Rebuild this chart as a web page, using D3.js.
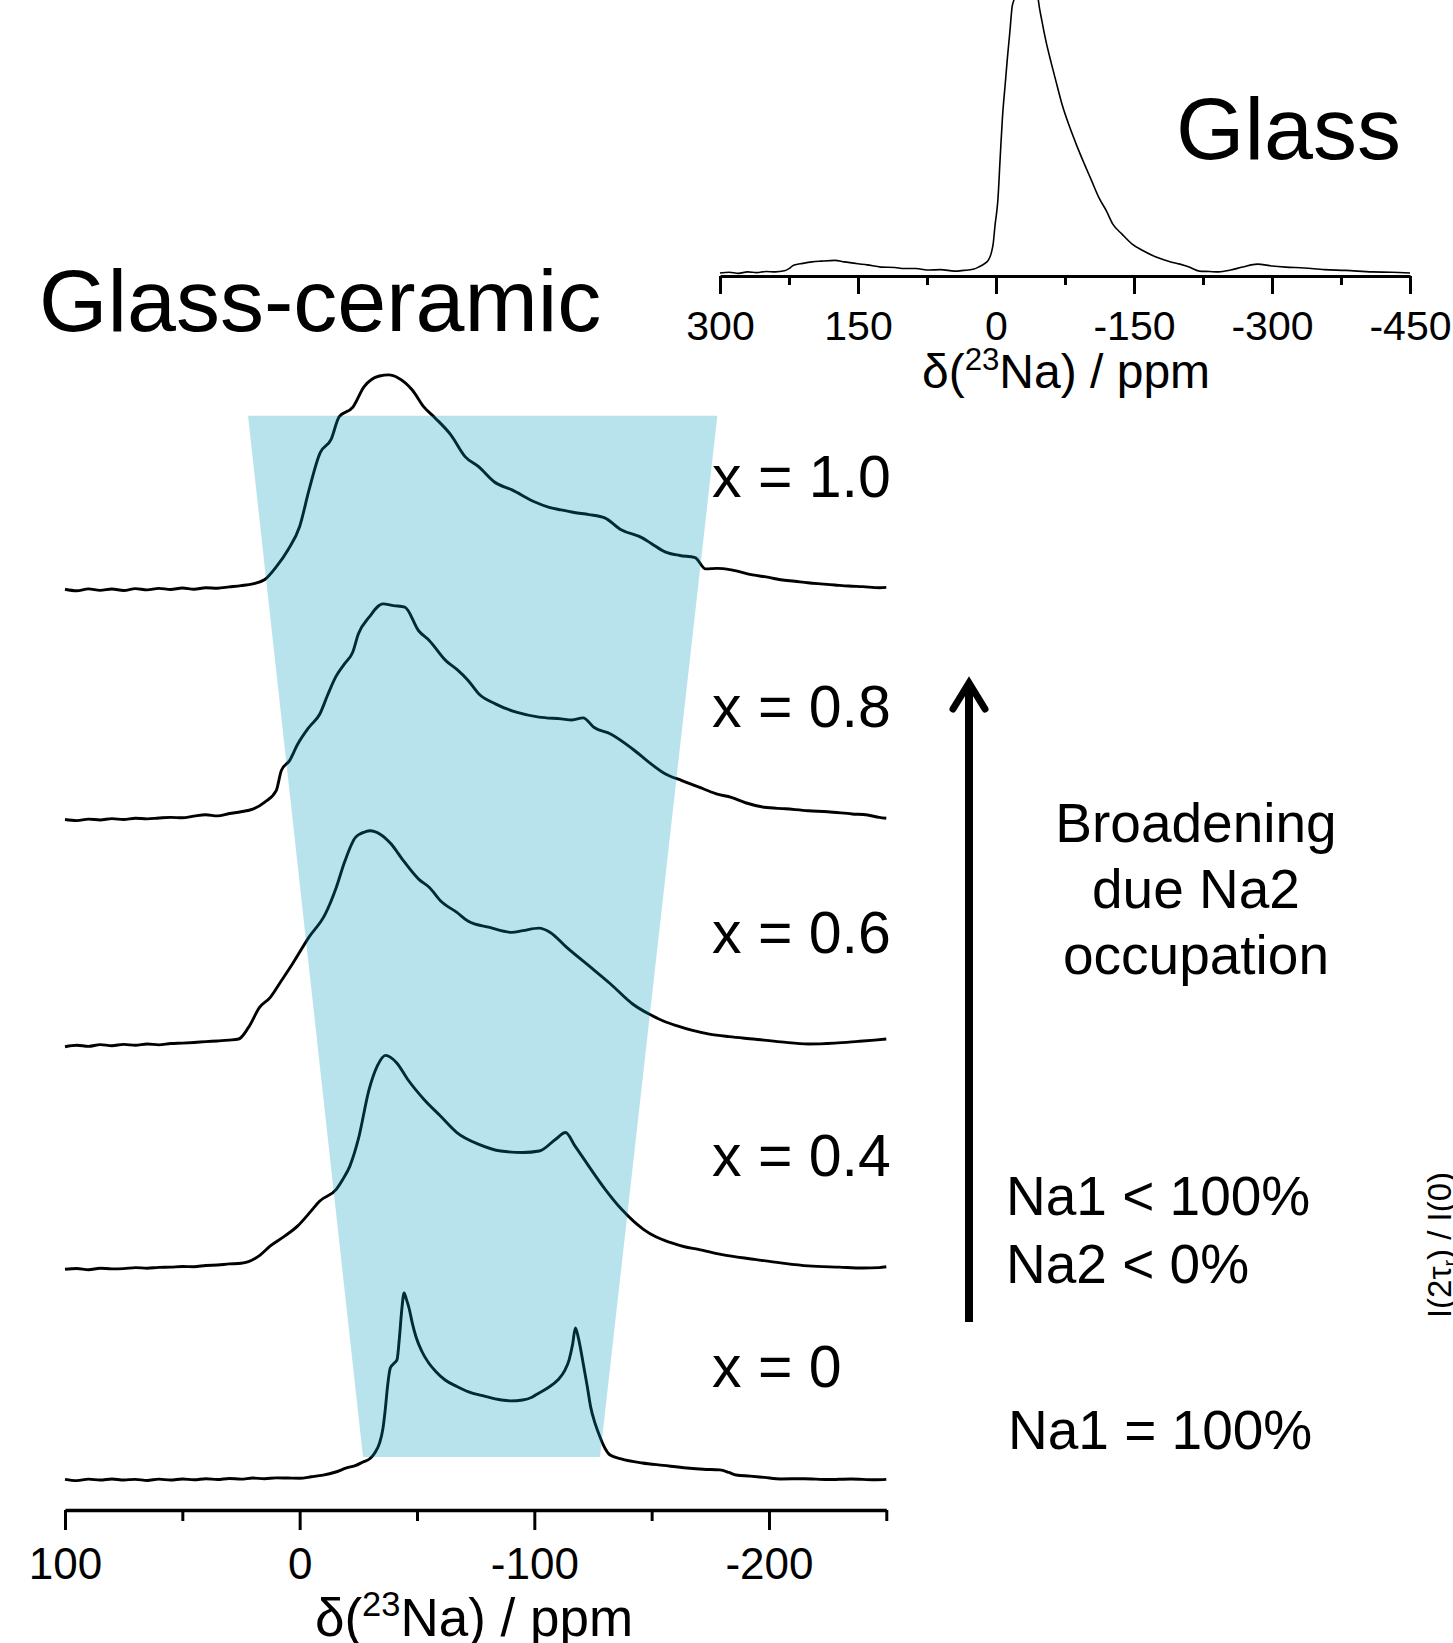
<!DOCTYPE html>
<html>
<head>
<meta charset="utf-8">
<script src="https://cdn.jsdelivr.net/npm/d3@7"></script>
<style>
  body { margin: 0; background: #fff; }
  svg { display: block; font-family: "Liberation Sans", Arial, sans-serif; }
</style>
</head>
<body>
<div id="chart"></div>
<script>
// ---- data ----
// stacked 23Na MAS spectra of the glass-ceramics, [ppm, intensity]
const seriesLabels = ['x = 1.0', 'x = 0.8', 'x = 0.6', 'x = 0.4', 'x = 0'];
const stackOffsets = [414, 307, 202, 98, 0];

const spec10 = [[100,0.3],[95,-0.4],[90,0.5],[85,-0.2],[80,0.4],[75,-0.3],[70,0.6],[65,0],[60,0.7],[55,0.2],[50,0.9],[45,0.3],[40,1.0],[35,0.8],[30,1.4],[25,2.0],[20,2.8],[15,4.7],[10,10.7],[5,18.6],[0,29.5],[-4,46.5],[-8.7,63.7],[-13.4,70],[-16.8,80.5],[-22.7,85],[-27.4,94.4],[-34,99.5],[-38,100],[-42,98.6],[-48,93],[-53,85],[-57.7,80],[-64.5,72],[-70.5,62],[-76.4,57.2],[-83,50.2],[-90.5,46.5],[-100,41],[-106,38.5],[-111.4,37.2],[-117,36],[-123.3,35],[-130,33.5],[-137,28],[-146,24.2],[-150,21.5],[-155.7,17.7],[-162,16],[-168.5,15],[-173,9.8],[-178,10],[-184,9.3],[-193,7],[-200,5.8],[-205,4.7],[-211,4],[-216.6,3.3],[-222,2.8],[-228,2.3],[-234,1.8],[-240,1.5],[-247,1],[-250,1.2]];

const spec08 = [[100,0.2],[95,-0.3],[90,0.4],[85,0],[80,0.6],[75,0.2],[70,0.8],[65,0.5],[60,0.9],[55,1.2],[50,1.0],[45,1.8],[40,2.4],[35,1.9],[30,3.0],[25,3.8],[20,5.0],[15,8.2],[10,13.6],[7.8,23],[4.3,27.6],[0.8,35.3],[-3.9,43],[-8.6,49.3],[-12.1,58.6],[-15.6,67],[-19.1,72.6],[-22.6,78],[-25,86.5],[-29.6,94.3],[-35.5,100.5],[-40,99.7],[-44.8,99],[-50.7,88],[-55.3,83.4],[-62.4,74],[-67,70],[-71.7,65],[-76.4,58.6],[-83.4,54],[-92.7,50],[-102,47.8],[-111.5,47],[-116,46.5],[-120.8,47.5],[-125.5,43],[-132.5,40],[-141.9,33],[-148.9,26.8],[-155.9,21.4],[-162.9,18.3],[-172.2,14.4],[-178,12],[-183.9,10.5],[-190,8],[-198,5.9],[-207,5.2],[-216.7,4.3],[-225,3.8],[-235.4,2.8],[-242,2.3],[-247,1.2],[-250,0.8]];

const spec06 = [[100,-0.5],[95,0.2],[90,-0.3],[85,0.5],[80,0],[75,0.6],[70,0.2],[65,0.8],[60,0.4],[55,1.0],[50,1.2],[45,1.5],[40,1.9],[35,2.2],[30,2.6],[26,3.1],[21.8,8.5],[17.1,17.8],[12.5,22.5],[7.8,30.2],[3.1,38],[-3.9,50.4],[-10.9,61.2],[-15.6,73.6],[-19.1,85.3],[-23.8,96.9],[-28,99.5],[-30,100],[-34.3,98.4],[-39,93.8],[-43.7,86.8],[-50.7,77.5],[-55.3,73.6],[-60,67.4],[-67,62],[-71.7,58],[-81,55],[-90.4,52.7],[-95.1,53.5],[-102,54.7],[-106.8,52.7],[-113.8,45.7],[-123.2,37.2],[-132.5,28.7],[-141.9,19.4],[-148.9,14.7],[-155,11.5],[-160.6,9.3],[-167,7.2],[-174.6,5.4],[-183,4.2],[-193.3,3.1],[-205,1.8],[-216.7,0.8],[-228,1.2],[-238,2.0],[-245,2.6],[-250,3.1]];

const spec04 = [[100,0],[95,0.4],[90,-0.2],[85,0.5],[80,0.2],[75,0.3],[70,0.8],[65,0.5],[60,0.9],[55,1.0],[50,1.3],[45,1.2],[40,1.8],[35,2.0],[30,2.5],[25,2.8],[21.8,3.6],[17,6.5],[12.5,10.9],[7,15],[0.8,20.2],[-4,26],[-8.6,31.8],[-15.6,37.2],[-18.5,42],[-21.4,48],[-25,60.5],[-29.6,83.7],[-33.1,94.6],[-36.6,99.5],[-41.3,96.1],[-46,88.4],[-53,79],[-60,71.3],[-67,63.6],[-76.4,58.1],[-85.7,55],[-95.1,54.3],[-102.1,55],[-109.1,60.5],[-113.3,63.6],[-117.3,57.4],[-123.2,48],[-130.2,37.2],[-137.2,27.9],[-146.5,18.6],[-152,15],[-158.2,12.4],[-164,10.5],[-169.9,9.3],[-180,6.8],[-193.3,4.7],[-205,3],[-216.7,1.6],[-230,1.0],[-240,0.6],[-247,0.8],[-250,1.2]];

const spec00 = [[100,0.3],[95,-0.3],[90,0.4],[85,0],[80,0.5],[75,0],[70,0.3],[65,-0.2],[60,0.4],[55,0],[50,0.5],[45,0.1],[40,0.6],[35,0.2],[30,0.7],[25,0.4],[20,0.9],[15,0.6],[10,1.0],[5,0.9],[0,0.8],[-5,1.5],[-10,2.3],[-15,3.6],[-20,5.6],[-24,6.8],[-27,8.4],[-30,10],[-32,12.6],[-34,17],[-35.5,24],[-36.5,33],[-37.5,44],[-38.6,52],[-40,54],[-41.5,56],[-42.5,66],[-43.5,79],[-44.5,87],[-45.5,84],[-46.6,80],[-48,73],[-49.6,66.5],[-52,60],[-55,54.4],[-58,50.5],[-62,46.5],[-67,43.5],[-72,41],[-78,39.2],[-86,37.2],[-90,36.8],[-95,37.2],[-99,38.5],[-102,40.5],[-106,43],[-110,46.5],[-113,51],[-114.8,55.8],[-116.3,63],[-117.5,70.7],[-118.8,66],[-120.7,55],[-122.5,44],[-124,34],[-126,26],[-128,20],[-130,15],[-132.3,11.6],[-137,9.8],[-146,7.9],[-155,6.8],[-165,5.6],[-172,5.0],[-179,4.7],[-183,3.5],[-186,2.3],[-192,1.8],[-198,1.2],[-205,0.5],[-215,0.6],[-225,0.2],[-235,0.5],[-245,0.1],[-250,0.3]];

// glass spectrum (top inset), [ppm, intensity]
const glassSpec = [[300,0],[290,0.2],[280,-0.1],[270,0.3],[260,0.1],[250,0.4],[240,0.3],[230,0.6],[225,1.2],[220,2.1],[210,2.6],[200,3.0],[190,3.2],[175,3.4],[165,3.0],[150,2.5],[140,2.2],[125,1.6],[110,1.5],[100,1.2],[87,1.2],[75,0.8],[60,0.9],[45,0.5],[35,0.7],[25,1.0],[19,1.6],[12,2.6],[8.5,3.4],[5,5.5],[3,8],[1,13],[-1,17],[-2,19.6],[-4.5,31],[-7,42],[-10,51],[-12.5,58.4],[-15,65],[-17.5,71.9],[-20,74.5],[-22.5,81],[-25,89],[-30,98.6],[-33,100],[-37,97.3],[-42,85],[-46,73.8],[-50,68],[-54,63],[-60,56.8],[-65,52],[-72,45.4],[-80,39.5],[-88,34.3],[-96,29.5],[-104,24.9],[-112,20.3],[-120,16.8],[-127,13.2],[-137,10.5],[-148,7.8],[-160,6],[-174,4.3],[-190,3],[-200,2.4],[-210,1.6],[-221,0.5],[-232,0.4],[-242,0.3],[-255,0.8],[-268,1.6],[-284,2.4],[-300,1.9],[-315,1.6],[-335,1.35],[-357,0.9],[-380,0.7],[-409,0.3],[-430,0.2],[-450,0]];

const mainTicksMajor = [100, 0, -100, -200];
const mainTicksMinor = [50, -50, -150, -250];
const glassTicksMajor = [300, 150, 0, -150, -300, -450];
const glassTicksMinor = [225, 75, -75, -225, -375];

// shaded trapezoid, [ppm, stacked intensity]
const bandCorners = [[22, 495], [-178, 495], [-128, 10.7], [-27, 10.7]];

const noteLines = ['Broadening', 'due Na2', 'occupation'];
const occLines = ['Na1 < 100%', 'Na2 < 0%'];

// ---- drawing ----
const W = 1453, H = 1643;
const svg = d3.select('#chart').append('svg').attr('width', W).attr('height', H);
svg.append('rect').attr('width', W).attr('height', H).attr('fill', '#fff');

const x = d3.scaleLinear().domain([100, -250]).range([65, 886.3]);
const y = d3.scaleLinear().domain([0, 500]).range([1480, 405]);

const series = [spec10, spec08, spec06, spec04, spec00];

series.forEach((s, i) => {
  const off = stackOffsets[i];
  const line = d3.line()
    .x(d => x(d[0]))
    .y(d => y(d[1] + off))
    .curve(d3.curveMonotoneX);
  svg.append('path')
    .datum(s)
    .attr('d', line)
    .attr('fill', 'none')
    .attr('stroke', '#000')
    .attr('stroke-width', 2.9)
    .attr('stroke-linejoin', 'round');
});

// translucent band over the spectra
svg.append('polygon')
  .attr('points', bandCorners.map(d => [x(d[0]), y(d[1])].join(',')).join(' '))
  .attr('fill', '#009bbb')
  .attr('fill-opacity', 0.28);

// series labels
series.forEach((s, i) => {
  svg.append('text')
    .attr('x', 712)
    .attr('y', y(stackOffsets[i]) - 93)
    .attr('font-size', 59)
    .text(seriesLabels[i]);
});

function styleAxis(g, fontSize) {
  g.attr('font-family', '"Liberation Sans", Arial, sans-serif');
  g.selectAll('text').attr('font-size', fontSize).attr('fill', '#000');
  g.selectAll('line').attr('stroke', '#000').attr('stroke-width', 3);
}

// bottom axis
const axMain = svg.append('g').attr('transform', 'translate(0,1510)');
axMain.call(d3.axisBottom(x).tickValues(mainTicksMajor).tickSize(20).tickSizeOuter(0)
  .tickPadding(18).tickFormat(d => String(d)));
axMain.select('.domain').attr('stroke', '#000').attr('stroke-width', 3.5);
styleAxis(axMain, 44);
const axMainMinor = svg.append('g').attr('transform', 'translate(0,1510)');
axMainMinor.call(d3.axisBottom(x).tickValues(mainTicksMinor).tickSize(11).tickFormat(''));
axMainMinor.select('.domain').remove();
styleAxis(axMainMinor, 44);

function axisTitle(cx, cy, size) {
  const t = svg.append('text').attr('x', cx).attr('y', cy)
    .attr('text-anchor', 'middle').attr('font-size', size);
  t.append('tspan').text('δ(');
  t.append('tspan').attr('font-size', size * 0.65).attr('dy', -size * 0.38).text('23');
  t.append('tspan').attr('dy', size * 0.38).text('Na) / ppm');
}
axisTitle(474, 1636, 53);

// glass inset
const gx = d3.scaleLinear().domain([300, -450]).range([720, 1410]);
const gy = d3.scaleLinear().domain([0, 100]).range([273, -97]);

svg.append('path')
  .datum(glassSpec)
  .attr('d', d3.line().x(d => gx(d[0])).y(d => gy(d[1])).curve(d3.curveMonotoneX))
  .attr('fill', 'none')
  .attr('stroke', '#000')
  .attr('stroke-width', 1.6);

const axGlass = svg.append('g').attr('transform', 'translate(0,276)');
axGlass.call(d3.axisBottom(gx).tickValues(glassTicksMajor).tickSize(18).tickSizeOuter(0)
  .tickPadding(17).tickFormat(d => String(d)));
axGlass.select('.domain').attr('stroke', '#000').attr('stroke-width', 3);
styleAxis(axGlass, 41);
const axGlassMinor = svg.append('g').attr('transform', 'translate(0,276)');
axGlassMinor.call(d3.axisBottom(gx).tickValues(glassTicksMinor).tickSize(9).tickFormat(''));
axGlassMinor.select('.domain').remove();
styleAxis(axGlassMinor, 41);

axisTitle(1066, 388, 48);

// panel titles
svg.append('text').attr('x', 1176).attr('y', 159).attr('font-size', 88).text('Glass');
svg.append('text').attr('x', 39).attr('y', 331).attr('font-size', 88).text('Glass-ceramic');

// arrow
svg.append('line')
  .attr('x1', 969).attr('x2', 969).attr('y1', 1322).attr('y2', 686)
  .attr('stroke', '#000').attr('stroke-width', 8);
svg.append('polyline')
  .attr('points', '953,709 969,683 985,709')
  .attr('fill', 'none').attr('stroke', '#000').attr('stroke-width', 7)
  .attr('stroke-linecap', 'round').attr('stroke-linejoin', 'miter');

// annotations
noteLines.forEach((t, i) => {
  svg.append('text').attr('x', 1196).attr('y', 842 + i * 66)
    .attr('text-anchor', 'middle').attr('font-size', 55).text(t);
});
occLines.forEach((t, i) => {
  svg.append('text').attr('x', 1006).attr('y', 1215 + i * 68)
    .attr('font-size', 55).text(t);
});
svg.append('text').attr('x', 1008).attr('y', 1449).attr('font-size', 55).text('Na1 = 100%');

// clipped label at the right edge
const side = svg.append('text')
  .attr('transform', 'translate(1451,1245) rotate(-90)')
  .attr('text-anchor', 'middle').attr('font-size', 33);
side.append('tspan').text('I(2τ');
side.append('tspan').attr('font-size', 20).attr('dy', 6).text('r');
side.append('tspan').attr('dy', -6).text(') / I(0)');
</script>
</body>
</html>
